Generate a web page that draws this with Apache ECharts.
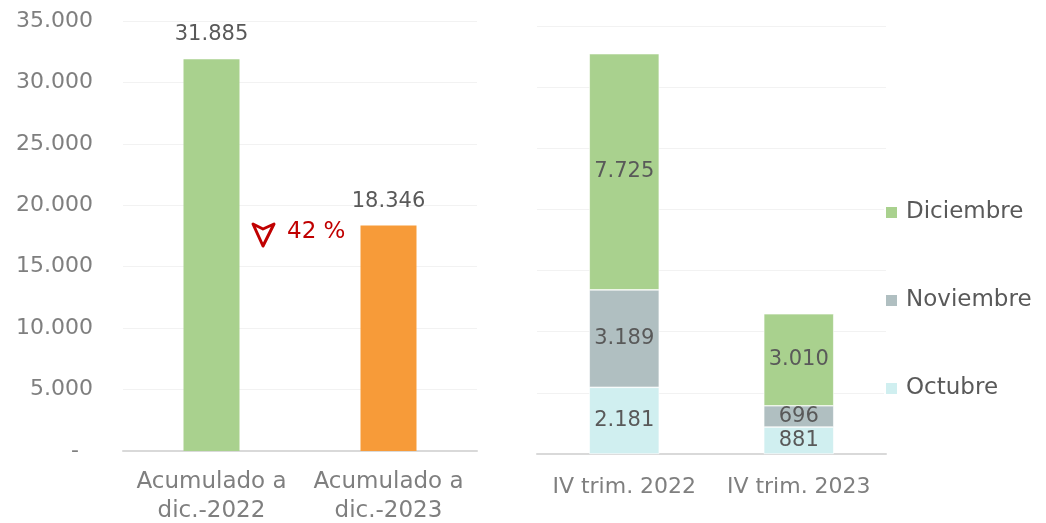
<!DOCTYPE html>
<html>
<head>
<meta charset="utf-8">
<script src="https://cdn.jsdelivr.net/npm/echarts@6/dist/echarts.min.js"></script>
<style>
    html, body { margin: 0; padding: 0; background: #fff; }
    #chart { width: 1046px; height: 523px; }
</style>
</head>
<body>
<div id="chart"></div>
<script>
// left panel: accumulated totals
const accCategories = ['Acumulado a\ndic.-2022', 'Acumulado a\ndic.-2023']
const accValues = [31885, 18346]
const accColors = ['#A9D18E', '#F79B39']
const accTicks = [0, 5000, 10000, 15000, 20000, 25000, 30000, 35000]

// right panel: monthly breakdown for Q4
const quarterCategories = ['IV trim. 2022', 'IV trim. 2023']
const octubre = [2181, 881]
const noviembre = [3189, 696]
const diciembre = [7725, 3010]
const monthNames = ['Octubre', 'Noviembre', 'Diciembre']
const monthColors = ['#D0EFF0', '#B0BFC1', '#A9D18E']

const changeText = '42 %'

const font = 'DejaVu Sans'
const textColor = '#595959'
const axisColor = '#7F7F7F'

function fmt(v) {
    if (v === 0) return '-\u00a0\u00a0'
    return String(v).replace(/\B(?=(\d{3})+(?!\d))/g, '.')
}

let dom = document.getElementById('chart')
let myChart = echarts.init(dom, null, { renderer: 'canvas' })

let monthData = [octubre, noviembre, diciembre]
let monthSeries = monthNames.map(function (name, i) {
    return {
        name: name,
        type: 'bar',
        stack: 'trim',
        xAxisIndex: 1,
        yAxisIndex: 1,
        barWidth: 70,
        data: monthData[i],
        itemStyle: { color: monthColors[i], borderColor: '#fff', borderWidth: 0.6 },
        label: {
            show: true,
            position: 'inside',
            color: textColor,
            fontFamily: font,
            fontSize: 21,
            formatter: function (p) { return fmt(p.value) }
        }
    }
})

option = {
    animation: false,
    backgroundColor: '#fff',
    textStyle: { fontFamily: font },
    grid: [
        { left: 123, right: 569, top: 21, bottom: 72, outerBoundsMode: 'none', containLabel: false },
        { left: 537, right: 160, top: 26, bottom: 69, outerBoundsMode: 'none', containLabel: false }
    ],
    legend: {
        orient: 'vertical',
        left: 879,
        top: 196,
        itemWidth: 13,
        itemHeight: 13,
        itemGap: 65,
        icon: 'rect',
        data: ['Diciembre', 'Noviembre', 'Octubre'],
        textStyle: { color: textColor, fontFamily: font, fontSize: 23, padding: [0, 0, 0, 3] }
    },
    xAxis: [
        {
            type: 'category',
            gridIndex: 0,
            data: accCategories,
            axisLine: { lineStyle: { color: '#D9D9D9', width: 2 } },
            axisTick: { show: false },
            axisLabel: { color: axisColor, fontFamily: font, fontSize: 23, lineHeight: 29, margin: 17, interval: 0 }
        },
        {
            type: 'category',
            gridIndex: 1,
            data: quarterCategories,
            axisLine: { lineStyle: { color: '#D9D9D9', width: 2 } },
            axisTick: { show: false },
            axisLabel: { color: axisColor, fontFamily: font, fontSize: 22, margin: 22, interval: 0 }
        }
    ],
    yAxis: [
        {
            type: 'value',
            gridIndex: 0,
            min: accTicks[0],
            max: accTicks[accTicks.length - 1],
            interval: accTicks[1] - accTicks[0],
            axisLine: { show: false },
            axisTick: { show: false },
            splitLine: { lineStyle: { color: '#F2F2F2' } },
            axisLabel: { color: axisColor, fontFamily: font, fontSize: 22, margin: 30, formatter: fmt }
        },
        {
            type: 'value',
            gridIndex: 1,
            min: 0,
            max: 14000,
            interval: 2000,
            axisLine: { show: false },
            axisTick: { show: false },
            axisLabel: { show: false },
            splitLine: { lineStyle: { color: '#F2F2F2' } }
        }
    ],
    series: [
        {
            name: 'Acumulado',
            type: 'bar',
            xAxisIndex: 0,
            yAxisIndex: 0,
            barWidth: 56,
            data: accValues.map(function (v, i) {
                return { value: v, itemStyle: { color: accColors[i] } }
            }),
            label: {
                show: true,
                position: 'top',
                distance: 14,
                color: textColor,
                fontFamily: font,
                fontSize: 21,
                formatter: function (p) { return fmt(p.value) }
            }
        }
    ].concat(monthSeries),
    graphic: [
        {
            type: 'polygon',
            shape: { points: [[253, 224], [263, 229], [274, 224], [263, 246]] },
            style: { fill: 'none', stroke: '#C00000', lineWidth: 3, lineJoin: 'round' }
        },
        {
            type: 'text',
            left: 287,
            top: 221,
            style: { text: changeText, fill: '#C00000', font: '23px "DejaVu Sans"' }
        }
    ]
}

if (option && typeof option === 'object') {
    myChart.setOption(option)
}
window.addEventListener('resize', myChart.resize)
</script>
</body>
</html>
